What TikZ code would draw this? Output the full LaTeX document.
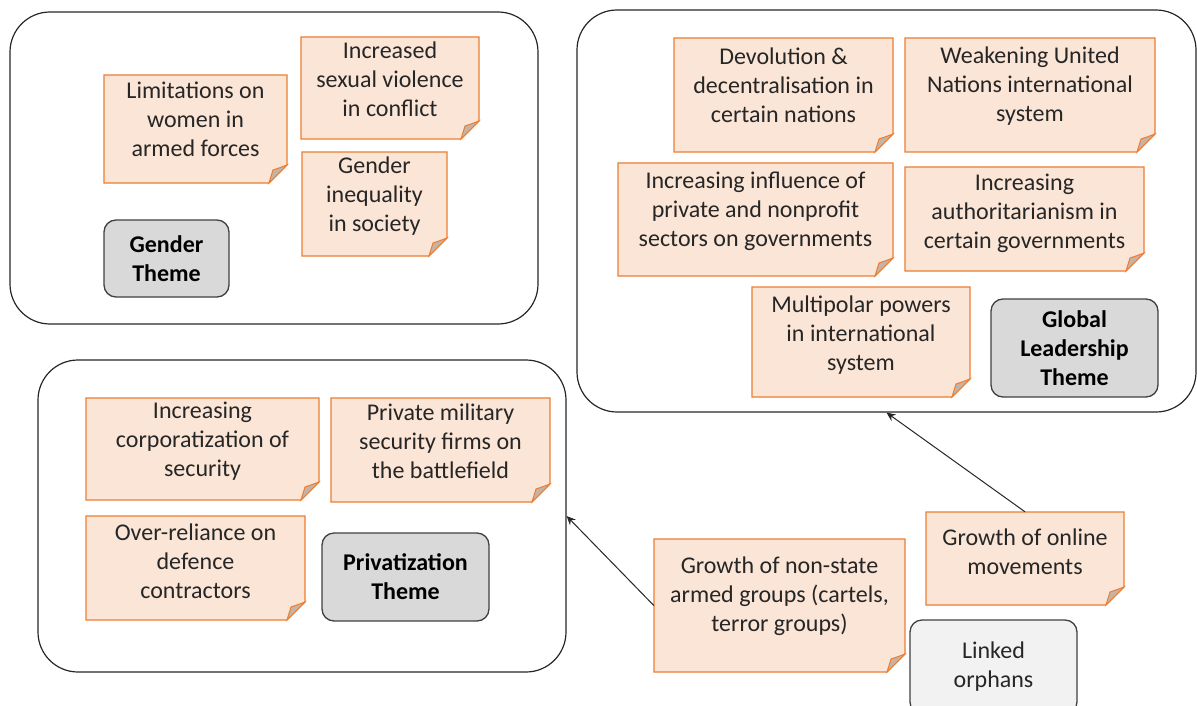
\documentclass[tikz,border=0pt]{standalone}
\usepackage{fontspec}
\setmainfont{Carlito}
\usetikzlibrary{arrows.meta}
\definecolor{notefill}{HTML}{FBE5D6}
\definecolor{noteline}{HTML}{ED7D31}
\definecolor{foldfill}{HTML}{C4B4A8}
\definecolor{themefill}{HTML}{D9D9D9}
\definecolor{orphanfill}{HTML}{F2F2F2}
\definecolor{txt}{HTML}{262626}

% sticky note: named box node plus outline with a folded bottom-right corner
\newcommand\notebox[5]{%
  \node[boxarea, minimum width=#4pt-#2pt, minimum height=#5pt-#3pt]
    (#1) at ({(#2+#4)/2},{(#3+#5)/2}) {};
  \filldraw[noteshape] (#2,#3) -- (#4,#3) -- (#4,#5-18) -- (#4-18,#5) -- (#2,#5) -- cycle;
  \filldraw[foldshape] (#4-18,#5) .. controls (#4-16,#5-7) .. (#4-14,#5-13)
    .. controls (#4-8,#5-15) .. (#4,#5-18) -- cycle;
}

\begin{document}
\begin{tikzpicture}[x=1pt,y=-1pt,
  every node/.style={font=\fontsize{24}{29}\selectfont, text=txt},
  boxarea/.style={rectangle, inner sep=0pt, draw=none},
  container/.style={rectangle, draw=black!85, line width=1.2pt, rounded corners=40pt,
    inner sep=0pt},
  noteshape/.style={fill=notefill, draw=noteline, line width=1.3pt, line join=miter},
  foldshape/.style={fill=foldfill, draw=noteline, line width=1pt},
  notetext/.style={align=center, inner sep=0pt},
  theme/.style={rectangle, draw=black!75, line width=1.3pt, rounded corners=12pt,
    fill=themefill, align=center, inner sep=0pt,
    font=\fontsize{24}{29}\selectfont\bfseries, text=black},
  orphan/.style={theme, fill=orphanfill, font=\fontsize{24}{29}\selectfont, text=txt},
  link/.style={draw=black!85, line width=1pt, -{Stealth[length=9pt,width=8pt]}}
]
\clip (0,0) rectangle (1197,706);

% theme containers
\node[container, minimum width=528pt, minimum height=312pt] (gender) at (274,168) {};
\node[container, minimum width=619pt, minimum height=402pt] (global) at (886.5,211) {};
\node[container, minimum width=528pt, minimum height=312pt] (priv) at (302,516) {};

% gender theme
\notebox{lim}{104}{75}{287}{183}
\node[notetext] (limt) at (195.5,119) {Limitations on\\women in\\armed forces};
\notebox{sex}{301}{37}{479}{139}
\node[notetext] (sext) at (390,79) {Increased\\sexual violence\\in conflict};
\notebox{ineq}{302}{152}{447}{256}
\node[notetext] (ineqt) at (374.5,196) {Gender\\inequality\\in society};
\node[theme, minimum width=125pt, minimum height=77pt] (gtheme) at (166.5,258.5)
  {Gender\\Theme};

% global leadership theme
\notebox{devo}{674}{38}{893}{152}
\node[notetext] (devot) at (783.5,85) {Devolution \&\\decentralisation in\\certain nations};
\notebox{un}{905}{38}{1155}{152}
\node[notetext] (unt) at (1030,86) {Weakening United\\Nations international\\system};
\notebox{infl}{618}{163}{893}{276}
\node[notetext] (inflt) at (755.5,211) {Increasing influence of\\private and nonprofit\\sectors on governments};
\notebox{auth}{905}{167}{1144}{271}
\node[notetext] (autht) at (1024.5,213) {Increasing\\authoritarianism in\\certain governments};
\notebox{multi}{752}{287}{970}{397}
\node[notetext] (multit) at (861,335) {Multipolar powers\\in international\\system};
\node[theme, minimum width=167pt, minimum height=98pt] (ltheme) at (1074.5,348)
  {Global\\Leadership\\Theme};

% privatization theme
\notebox{corp}{86}{398}{319}{500}
\node[notetext] (corpt) at (202.5,441) {Increasing\\corporatization of\\security};
\notebox{pmsf}{331}{398}{550}{502}
\node[notetext] (pmsft) at (440.5,441) {Private military\\security firms on\\the battlefield};
\notebox{over}{86}{516}{305}{620}
\node[notetext] (overt) at (195.5,561) {Over-reliance on\\defence\\contractors};
\node[theme, minimum width=167pt, minimum height=88pt] (ptheme) at (405.5,577)
  {Privatization\\Theme};

% unassigned drivers
\notebox{nsag}{654}{539}{905}{672}
\node[notetext] (nsagt) at (779.5,596) {Growth of non-state\\armed groups (cartels,\\terror groups)};
\notebox{online}{926}{512}{1124}{605}
\node[notetext] (onlinet) at (1025,552) {Growth of online\\movements};
\node[orphan, minimum width=167pt, minimum height=94pt] (orph) at (993.5,667)
  {Linked\\orphans};

% links to themes
\draw[link] (nsag.west) -- (priv.east);
\draw[link] (online.north) -- (global.south);
\end{tikzpicture}
\end{document}
